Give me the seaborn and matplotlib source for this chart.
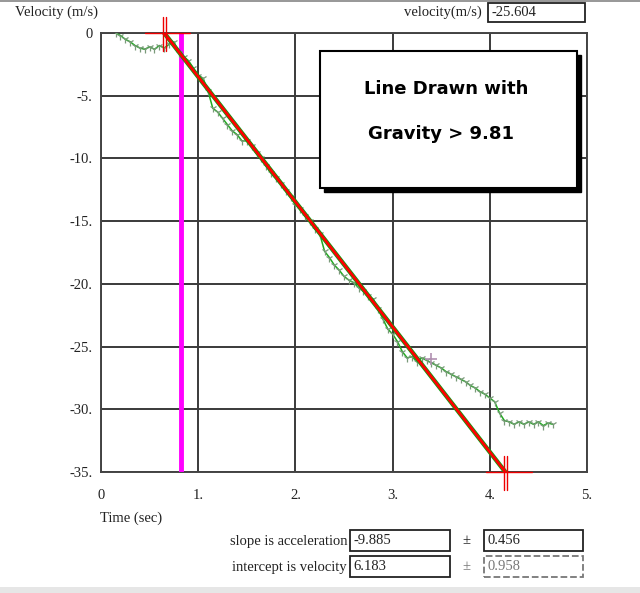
import matplotlib
matplotlib.use('Agg')
import matplotlib.pyplot as plt
from matplotlib.patches import Rectangle
import pandas as pd
import seaborn as sns

# measured velocity (green trace)
time_s = [0.15, 0.2, 0.25, 0.3, 0.35, 0.4, 0.45, 0.5, 0.55, 0.6, 0.65, 0.7, 0.75, 0.8,
          0.85, 0.9, 0.95, 1.0, 1.05, 1.1, 1.15, 1.2, 1.25, 1.3, 1.35, 1.4, 1.45, 1.5,
          1.55, 1.6, 1.65, 1.7, 1.75, 1.8, 1.85, 1.9, 1.95, 2.0, 2.05, 2.1, 2.15, 2.2,
          2.25, 2.3, 2.35, 2.4, 2.45, 2.5, 2.55, 2.6, 2.65, 2.7, 2.75, 2.8, 2.85, 2.9,
          2.95, 3.0, 3.05, 3.1, 3.15, 3.2, 3.25, 3.3, 3.35, 3.4, 3.45, 3.5, 3.55, 3.6,
          3.65, 3.7, 3.75, 3.8, 3.85, 3.9, 3.95, 4.0, 4.05, 4.1, 4.15, 4.2, 4.25, 4.3,
          4.35, 4.4, 4.45, 4.5, 4.55, 4.6, 4.65]
velocity = [0.0, -0.2, -0.5, -0.7, -1.0, -1.2, -1.3, -1.1, -1.3, -1.0, -1.2, -0.9, -0.7, -1.6,
            -1.9, -2.2, -2.8, -3.4, -3.6, -4.6, -6.0, -6.3, -6.8, -7.3, -7.8, -8.1, -8.6, -8.6,
            -9.0, -9.6, -10.0, -10.6, -11.2, -11.6, -12.0, -12.6, -13.1, -13.7, -14.0, -14.6, -15.0, -15.6,
            -16.0, -17.4, -17.9, -18.5, -18.9, -19.4, -19.7, -19.9, -20.3, -20.6, -21.0, -21.2, -22.0, -22.8,
            -23.6, -24.0, -24.6, -25.4, -25.9, -25.8, -26.2, -25.9, -26.1, -26.3, -26.5, -26.7, -27.0, -27.2,
            -27.4, -27.6, -27.8, -28.1, -28.3, -28.6, -28.8, -29.1, -29.4, -30.3, -30.9, -31.0, -31.2, -31.0,
            -31.2, -31.0, -31.2, -31.0, -31.3, -31.1, -31.2]

# hand drawn line (red) endpoints
fit_t = [0.65, 4.16]
fit_v = [0.0, -35.0]
cursor_t = 0.82
probe_t, probe_v = 3.39, -26.0

x_ticks = [0, 1, 2, 3, 4, 5]
x_labels = ['0', '1.', '2.', '3.', '4.', '5.']
y_ticks = [0, -5, -10, -15, -20, -25, -30, -35]
y_labels = ['0', '-5.', '-10.', '-15.', '-20.', '-25.', '-30.', '-35.']

readout = '-25.604'
slope, slope_err = '-9.885', '0.456'
intercept, intercept_err = '6.183', '0.958'

df = pd.DataFrame({'t': time_s, 'v': velocity})
fit = pd.DataFrame({'t': fit_t, 'v': fit_v})

sns.set_style('white')
plt.rcParams['font.family'] = ['Liberation Serif', 'DejaVu Serif']

W, H = 640, 593
fig = plt.figure(figsize=(6.4, 5.93), dpi=100)
ax = fig.add_axes([101 / W, 1 - 472 / H, (587 - 101) / W, (472 - 33) / H])

ax.set_xlim(0, 5)
ax.set_ylim(-35, 0)
ax.set_xticks(x_ticks)
ax.set_xticklabels(x_labels)
ax.set_yticks(y_ticks)
ax.set_yticklabels(y_labels)
ax.tick_params(length=0, labelsize=10.5, colors='#222222')
ax.tick_params(axis='x', pad=12)
ax.tick_params(axis='y', pad=6)
ax.grid(True, color='#3a3a3a', lw=1.4)
for s in ax.spines.values():
    s.set_color('#444444')
    s.set_linewidth(1.4)

ax.axvline(cursor_t, color='#ff00ff', lw=3.5, zorder=3)

sns.lineplot(data=df, x='t', y='v', ax=ax, color='#22aa22', lw=1.1, zorder=4,
             marker='1', markersize=6, markeredgecolor='#7a9a7a', markeredgewidth=0.9,
             estimator=None, sort=False)

sns.lineplot(data=fit, x='t', y='v', ax=ax, color='#119911', lw=3.2, zorder=5,
             estimator=None, sort=False)
sns.lineplot(data=fit, x='t', y='v', ax=ax, color='#ff0000', lw=2, zorder=6,
             estimator=None, sort=False)

ax.plot(probe_t, probe_v, marker='+', color='#b090b0', ms=9, mew=1.2, zorder=7)

# crosshairs at the drawn line ends
for tx, vy in zip(fit_t, fit_v):
    ax.plot([tx - 0.2, tx + 0.27], [vy, vy], color='#ee0000', lw=1, zorder=8, clip_on=False)
    for dx in (-0.015, 0.015):
        ax.plot([tx + dx, tx + dx], [vy - 1.4, vy + 1.3], color='#ee0000', lw=1,
                zorder=8, clip_on=False)

ax.set_xlabel('')
ax.set_ylabel('')

fs = 10.5
fig.text(15 / W, 1 - 12 / H, 'Velocity (m/s)', fontsize=fs, va='center', color='#222222')
fig.text(100 / W, 1 - 518 / H, 'Time (sec)', fontsize=fs, va='center', color='#222222')
fig.text(482 / W, 1 - 12 / H, 'velocity(m/s)', fontsize=fs, va='center', ha='right', color='#222222')


def box(x0, y0, x1, y1, text, dashed=False):
    fig.patches.append(Rectangle((x0 / W, 1 - y1 / H), (x1 - x0) / W, (y1 - y0) / H,
                                 transform=fig.transFigure, fill=True, facecolor='white',
                                 edgecolor='#777777' if dashed else '#222222',
                                 lw=1.3, ls='--' if dashed else '-'))
    fig.text((x0 + 3) / W, 1 - ((y0 + y1) / 2) / H, text, fontsize=fs, va='center',
             color='#777777' if dashed else '#222222')


box(488, 3, 585, 22, readout)
fig.text(347 / W, 1 - 541 / H, 'slope is acceleration', fontsize=fs, va='center', ha='right', color='#222222')
fig.text(347 / W, 1 - 567 / H, 'intercept is velocity', fontsize=fs, va='center', ha='right', color='#222222')
box(350, 530, 450, 551, slope)
box(350, 556, 450, 577, intercept)
fig.text(466 / W, 1 - 541 / H, '±', fontsize=fs, va='center', ha='center', color='#222222')
fig.text(466 / W, 1 - 567 / H, '±', fontsize=fs, va='center', ha='center', color='#777777')
box(484, 530, 583, 551, slope_err)
box(484, 556, 583, 577, intercept_err, dashed=True)

# annotation box with shadow
fig.patches.append(Rectangle((324 / W, 1 - 192 / H), 257 / W, 137 / H, transform=fig.transFigure,
                             facecolor='black', edgecolor='black', zorder=9))
fig.patches.append(Rectangle((320 / W, 1 - 188 / H), 257 / W, 137 / H, transform=fig.transFigure,
                             facecolor='white', edgecolor='black', lw=1.5, zorder=10))
fig.text(446 / W, 1 - 89 / H, 'Line Drawn with', fontsize=13, fontweight='bold',
         family='DejaVu Sans', color='black', ha='center', va='center', zorder=11)
fig.text(441 / W, 1 - 134 / H, 'Gravity > 9.81', fontsize=13, fontweight='bold',
         family='DejaVu Sans', color='black', ha='center', va='center', zorder=11)

# window edges
fig.patches.append(Rectangle((0, 1 - 2 / H), 1, 2 / H, transform=fig.transFigure,
                             facecolor='#999999', edgecolor='none'))
fig.patches.append(Rectangle((0, 0), 1, 6 / H, transform=fig.transFigure,
                             facecolor='#e6e6e6', edgecolor='none'))

fig.savefig('out.png', dpi=100)
